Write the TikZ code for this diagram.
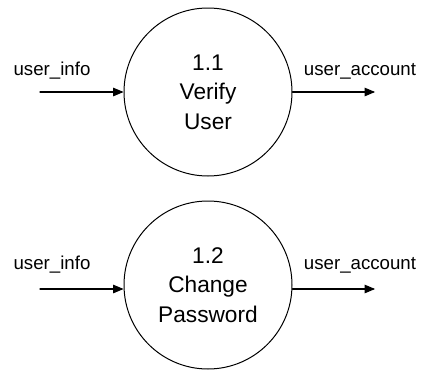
\documentclass[tikz,border=0pt]{standalone}
\usepackage{fontspec}
\setmainfont{Liberation Sans}
\usetikzlibrary{arrows}

\begin{document}
\begin{tikzpicture}[line cap=round,line join=round,>=triangle 45,x=0.75pt,y=-0.75pt]
\tikzset{process/.style={draw,circle,line width=0.75pt,minimum size=126pt,inner sep=0pt,align=center,font=\fontsize{17}{22}\selectfont},
flowlabel/.style={font=\fontsize{14}{16}\selectfont},
flow/.style={->,line width=0.8pt}}
\useasboundingbox (0,0) rectangle (422,372);

\node[process] (verify) at (208,92) {1.1\\Verify\\User};
\node[process] (change) at (208,285) {1.2\\Change\\Password};

\coordinate (in1) at (40,92);
\coordinate (out1) at (375,92);
\coordinate (in2) at (40,289);
\coordinate (out2) at (375,289);

\draw[flow] (in1) -- (in1 -| verify.west);
\draw[flow] (verify.east) -- (out1);
\draw[flow] (in2) -- (in2 -| change.west);
\draw[flow] (in2 -| change.east) -- (out2);

\node[flowlabel] (info1) at (52,71) {user\_info};
\node[flowlabel] (account1) at (360,71) {user\_account};
\node[flowlabel] (info2) at (52,265) {user\_info};
\node[flowlabel] (account2) at (360,265) {user\_account};
\end{tikzpicture}
\end{document}
